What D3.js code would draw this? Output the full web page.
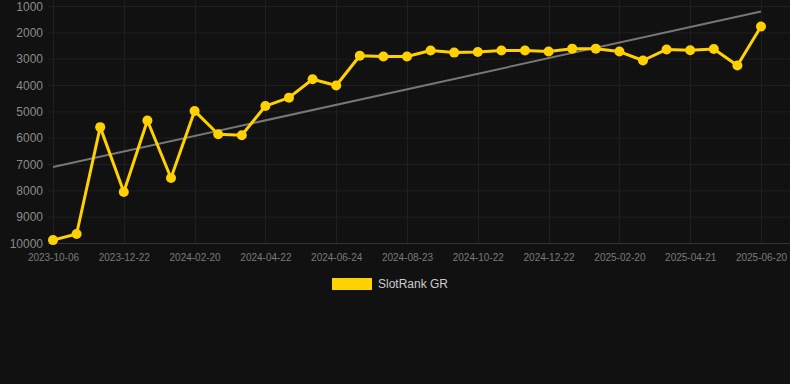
<!DOCTYPE html>
<html><head><meta charset="utf-8">
<script src="https://cdn.jsdelivr.net/npm/d3@7"></script>
<style>html,body{margin:0;padding:0;background:#111111;}svg{display:block;}</style>
</head><body>
<svg id="chart" width="790" height="384"></svg>
<script>
const dates = ["2023-10-06","2023-10-31","2023-11-26","2023-12-22","2024-01-11","2024-01-31","2024-02-20","2024-03-11","2024-04-01","2024-04-22","2024-05-13","2024-06-03","2024-06-24","2024-07-14","2024-08-03","2024-08-23","2024-09-12","2024-10-02","2024-10-22","2024-11-11","2024-12-02","2024-12-22","2025-01-11","2025-01-31","2025-02-20","2025-03-12","2025-04-01","2025-04-21","2025-05-11","2025-05-31","2025-06-20"];
const ranks = [9890,9660,5600,8065,5350,7530,4985,5870,5910,4800,4480,3780,4020,2890,2920,2920,2690,2770,2750,2690,2690,2730,2620,2620,2730,3070,2650,2680,2630,3260,1780];
const tickLabels = ["2023-10-06","2023-12-22","2024-02-20","2024-04-22","2024-06-24","2024-08-23","2024-10-22","2024-12-22","2025-02-20","2025-04-21","2025-06-20"];
const yTicks = [1000,2000,3000,4000,5000,6000,7000,8000,9000,10000];
const seriesName = "SlotRank GR";

const svg = d3.select("#chart");
const x = d3.scalePoint().domain(dates).range([53, 761]);
const y = d3.scaleLinear().domain([1000, 10000]).range([6, 243]);

// horizontal grid
svg.append("g").selectAll("line").data(yTicks).join("line")
  .attr("x1", 48).attr("x2", 790)
  .attr("y1", d => y(d) + 0.5).attr("y2", d => y(d) + 0.5)
  .attr("stroke", d => d === 10000 ? "#333333" : "#1f1f1f").attr("stroke-width", 1);
// vertical grid
svg.append("g").selectAll("line").data(tickLabels).join("line")
  .attr("x1", d => Math.round(x(d)) + 0.5).attr("x2", d => Math.round(x(d)) + 0.5)
  .attr("y1", 0).attr("y2", 243)
  .attr("stroke", "#1f1f1f").attr("stroke-width", 1);

// y axis
const yAxis = d3.axisLeft(y).tickValues(yTicks).tickSize(0).tickPadding(0).tickFormat(d => String(d));
const gy = svg.append("g").attr("transform", "translate(43,0)").call(yAxis);
gy.select(".domain").remove();
gy.selectAll("text").attr("fill", "#8a8a8a").attr("font-family", "Liberation Sans, Arial, sans-serif").attr("font-size", 12).attr("dy", "0.35em");

// x axis
const xAxis = d3.axisBottom(x).tickValues(tickLabels).tickSize(0).tickPadding(0);
const gx = svg.append("g").attr("transform", "translate(0,254)").call(xAxis);
gx.select(".domain").remove();
gx.selectAll("text").attr("fill", "#7a7a7a").attr("font-family", "Liberation Sans, Arial, sans-serif").attr("font-size", 10).attr("dy", "0.71em");

// trend line (least squares)
const n = ranks.length;
const idx = d3.range(n);
const mx = d3.mean(idx), my = d3.mean(ranks);
const slope = d3.sum(idx, i => (i - mx) * (ranks[i] - my)) / d3.sum(idx, i => (i - mx) ** 2);
const icpt = my - slope * mx;
svg.append("line")
  .attr("x1", x(dates[0])).attr("y1", y(icpt))
  .attr("x2", x(dates[n - 1])).attr("y2", y(icpt + slope * (n - 1)))
  .attr("stroke", "#777777").attr("stroke-width", 2);

// series line
const line = d3.line().x((d, i) => x(dates[i])).y(d => y(d));
svg.append("path").datum(ranks).attr("d", line)
  .attr("fill", "none").attr("stroke", "#FFD100").attr("stroke-width", 3).attr("stroke-linejoin", "round");
svg.append("g").selectAll("circle").data(ranks).join("circle")
  .attr("cx", (d, i) => x(dates[i])).attr("cy", d => y(d)).attr("r", 5)
  .attr("fill", "#FFD100");

// legend
svg.append("rect").attr("x", 332).attr("y", 278).attr("width", 40).attr("height", 12).attr("fill", "#FFD100");
svg.append("text").attr("x", 378).attr("y", 284).attr("dy", "0.35em").text(seriesName)
  .attr("fill", "#cccccc").attr("font-family", "Liberation Sans, Arial, sans-serif").attr("font-size", 12);
</script>
</body></html>
